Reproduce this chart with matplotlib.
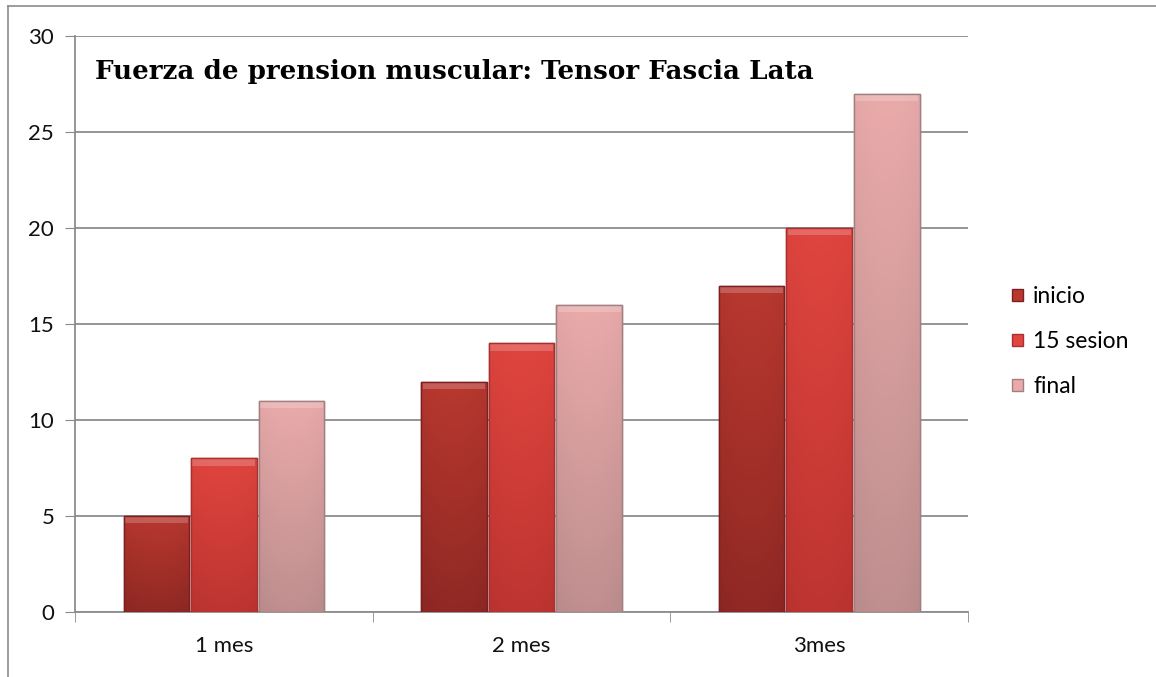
import numpy as np
import matplotlib
matplotlib.use("Agg")
import matplotlib.pyplot as plt
from matplotlib.lines import Line2D
from matplotlib.patches import Patch
from matplotlib.colors import LinearSegmentedColormap

# data
categories = ['1 mes', '2 mes', '3mes']
series = ['inicio', '15 sesion', 'final']
inicio = [5, 12, 17]
sesion15 = [8, 14, 20]
final = [11, 16, 27]
values = [inicio, sesion15, final]

# gradient colours per series (top -> bottom)
grads = [('#b8382f', '#8a2622'), ('#e0453f', '#b8322e'), ('#eaaaaa', '#b88a8a')]
edges = ['#7a2020', '#a83030', '#a08080']

fig = plt.figure(figsize=(11.56, 6.77), dpi=100)
ax = fig.add_axes([0.0649, 0.096, 0.7725, 0.8508])

x = np.arange(len(categories))
w = 0.22
offsets = [-w - 0.007, 0, w + 0.007]

for vals, off, (ctop, cbot), ec in zip(values, offsets, grads, edges):
    bars = ax.bar(x + off, vals, w, color=ctop, edgecolor=ec, linewidth=1.0, zorder=3)
    cmap = LinearSegmentedColormap.from_list('g', [cbot, ctop])
    for b in bars:
        bx, by = b.get_x(), b.get_y()
        bw, bh = b.get_width(), b.get_height()
        # vertical gradient + slight horizontal shading
        yy = np.linspace(0, 1, 64)[:, None]
        xx = np.linspace(-1, 1, 32)[None, :]
        img = yy * 0.85 + 0.15 - 0.12 * xx ** 2
        im = ax.imshow(img, cmap=cmap, vmin=0, vmax=1, aspect='auto', origin='lower',
                       extent=[bx, bx + bw, by, by + bh], zorder=3.5)
        im.set_clip_path(b)
        # light bevel on the top
        ax.bar(bx + bw / 2, 0.35, bw * 0.96, bottom=by + bh - 0.38,
               color='white', alpha=0.2, linewidth=0, zorder=4)
        ax.bar(bx + bw / 2, bh, bw, bottom=by, fill=False, edgecolor=ec,
               linewidth=1.0, zorder=5)

ax.set_xlim(-0.5, 2.5)
ax.set_ylim(0, 30)
ax.set_yticks(range(0, 31, 5))
ax.set_xticks(x)
ax.set_xticklabels(categories)
ax.set_xticks([-0.5, 0.5, 1.5, 2.5], minor=True)
ax.tick_params(axis='x', which='major', length=0, pad=17)
ax.tick_params(axis='x', which='minor', length=7, color='#888888', direction='out')
ax.tick_params(axis='y', length=7, color='#888888', direction='out', pad=8)
for lab in ax.get_xticklabels() + ax.get_yticklabels():
    lab.set_fontfamily('Lato')
    lab.set_fontsize(16)
    lab.set_color('#111111')

ax.grid(axis='y', color='#8c8c8c', linewidth=1.3, zorder=0)
ax.set_axisbelow(True)
for s in ['top', 'right']:
    ax.spines[s].set_visible(False)
for s in ['left', 'bottom']:
    ax.spines[s].set_color('#8c8c8c')
    ax.spines[s].set_linewidth(1.3)

ax.text(0.022, 0.938, 'Fuerza de prension muscular: Tensor Fascia Lata',
        transform=ax.transAxes, fontsize=18.8, fontweight='bold',
        fontfamily='DejaVu Serif', va='center', ha='left', zorder=6)

handles = [Patch(facecolor=c[0], edgecolor=e, label=s) for c, e, s in zip(grads, edges, series)]
leg = fig.legend(handles=handles, loc='center left', bbox_to_anchor=(0.858, 0.495),
                 frameon=False, prop={'family': 'Lato', 'size': 16.5},
                 handlelength=0.45, handleheight=0.45, handletextpad=0.45,
                 labelspacing=1.05)

# outer chart border
fig.add_artist(Line2D([0.0069, 0.0069], [0, 0.991], color='#8c8c8c', lw=1.2))
fig.add_artist(Line2D([0.0069, 1.0], [0.991, 0.991], color='#8c8c8c', lw=1.2))

fig.savefig('out.png', dpi=100)
